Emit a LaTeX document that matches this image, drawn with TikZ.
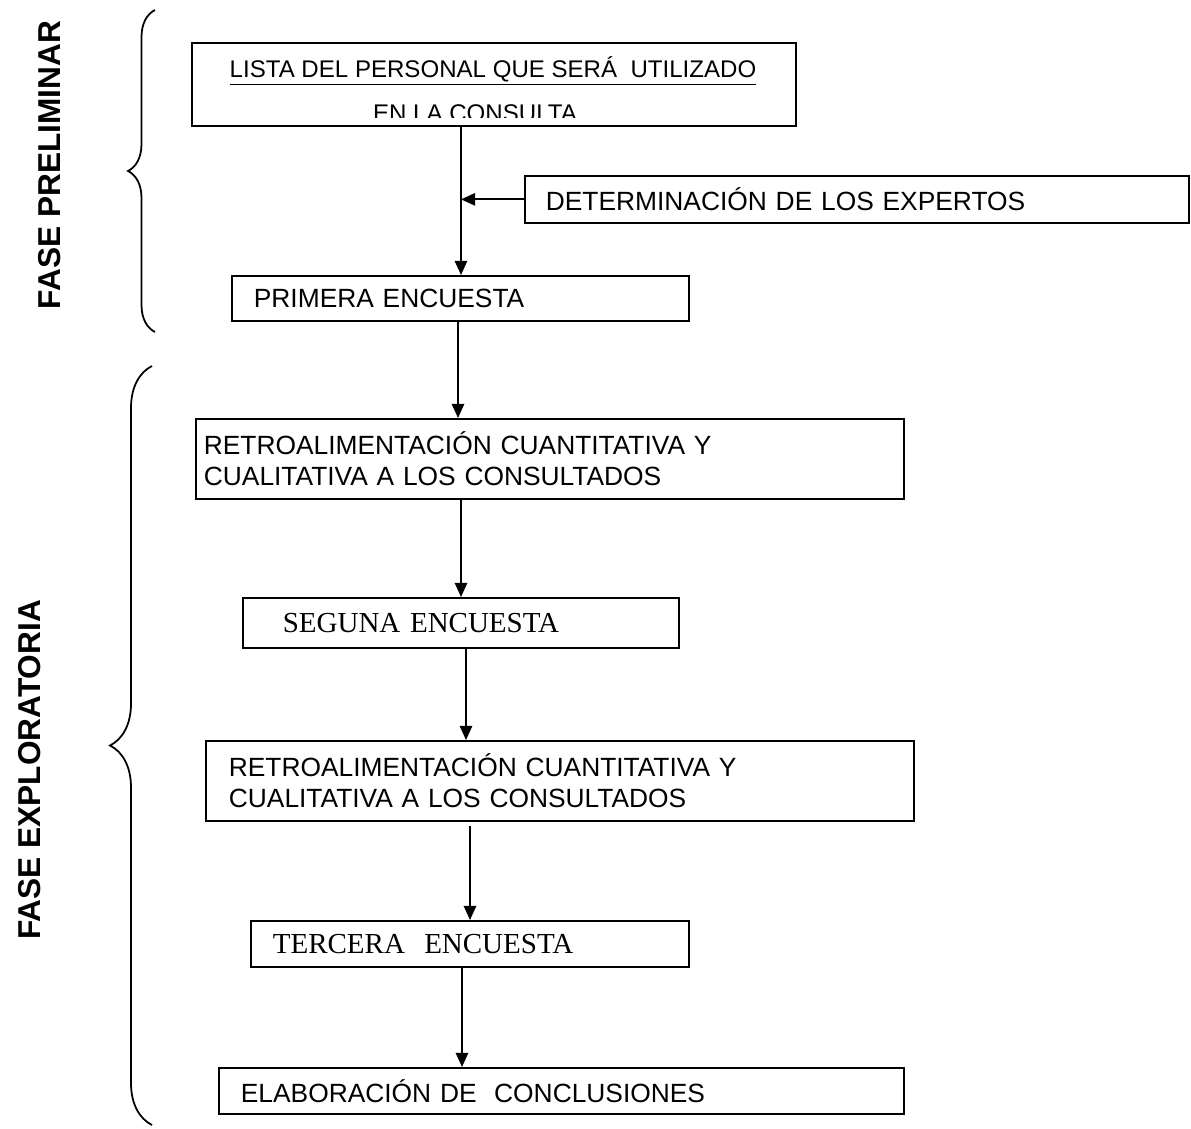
\documentclass[tikz,border=0pt]{standalone}
\usepackage{fontspec}
\setmainfont{Liberation Sans}
\newfontfamily\timesfont{Liberation Serif}
\usetikzlibrary{arrows.meta,decorations.pathreplacing}

\begin{document}
\begin{tikzpicture}[x=0.02cm, y=-0.02cm,
    every node/.style={font=\fontsize{15}{17.6}\selectfont},
    box/.style={draw, line width=1pt, anchor=north west, inner ysep=0pt, align=left},
    serif/.style={font=\timesfont\fontsize{16.5}{18}\selectfont},
    arr/.style={-{Triangle[length=8pt,width=7pt]}, line width=1pt},
    fase/.style={rotate=90, font=\fontsize{18}{20}\selectfont\bfseries},
    llave/.style={decorate, line width=1pt, decoration={brace, amplitude=#1}}]

    \useasboundingbox (0,0) rectangle (1191,1129);

    \node[box, minimum width=12.08cm, minimum height=1.66cm, inner sep=0pt] (lista) at (191,42) {};
    \begin{scope}[every node/.style={font=\fontsize{13.7}{16}\selectfont, anchor=base}]
        \clip (192,43) rectangle (794,117);
        \node (lista1) at (493,77) {\underline{LISTA DEL PERSONAL QUE SERÁ\ \ UTILIZADO}};
        \node (lista2) at (475,121) {EN LA CONSULTA};
    \end{scope}
    \node[box, text width=12.44cm, inner xsep=0.42cm, minimum height=0.94cm] (det) at (524,175) {DETERMINACIÓN DE LOS EXPERTOS};
    \node[box, text width=8.26cm, inner xsep=0.44cm, minimum height=0.9cm] (prim) at (231,275) {PRIMERA ENCUESTA};
    \node[box, text width=13.84cm, inner xsep=0.16cm, minimum height=1.6cm] (retro1) at (195,418) {RETROALIMENTACIÓN CUANTITATIVA Y\\CUALITATIVA A LOS CONSULTADOS};
    \node[box, serif, text width=7.12cm, inner xsep=0.8cm, minimum height=1cm] (seg) at (242,597) {SEGUNA ENCUESTA};
    \node[box, text width=13.24cm, inner xsep=0.46cm, minimum height=1.6cm] (retro2) at (205,740) {RETROALIMENTACIÓN CUANTITATIVA Y\\CUALITATIVA A LOS CONSULTADOS};
    \node[box, serif, text width=7.88cm, inner xsep=0.44cm, minimum height=0.92cm] (terc) at (250,920) {TERCERA\ \ ENCUESTA};
    \node[box, text width=12.82cm, inner xsep=0.44cm, minimum height=0.92cm] (elab) at (218,1067) {ELABORACIÓN DE\ \ CONCLUSIONES};

    \node[fase] (prelim) at (50,165) {FASE PRELIMINAR};
    \node[fase] (explo) at (30,770) {FASE EXPLORATORIA};

    \coordinate (col1) at (461,0);
    \coordinate (col2) at (458,0);
    \coordinate (col3) at (461,0);
    \coordinate (col4) at (466,0);
    \coordinate (col5) at (470,0);
    \coordinate (col6) at (462,0);

    \draw[arr] (lista.south -| col1) -- (prim.north -| col1);
    \draw[arr] (det.west) -- (det.west -| col1);
    \draw[arr] (prim.south -| col2) -- (retro1.north -| col2);
    \draw[arr] (retro1.south -| col3) -- (seg.north -| col3);
    \draw[arr] (seg.south -| col4) -- (retro2.north -| col4);
    \draw[arr, shorten <=0.08cm] (retro2.south -| col5) -- (terc.north -| col5);
    \draw[arr] (terc.south -| col6) -- (elab.north -| col6);

    \draw[llave=0.54cm] (155,332) -- (155,10);
    \draw[llave=0.84cm] (152,1125) -- (152,366);
\end{tikzpicture}
\end{document}
